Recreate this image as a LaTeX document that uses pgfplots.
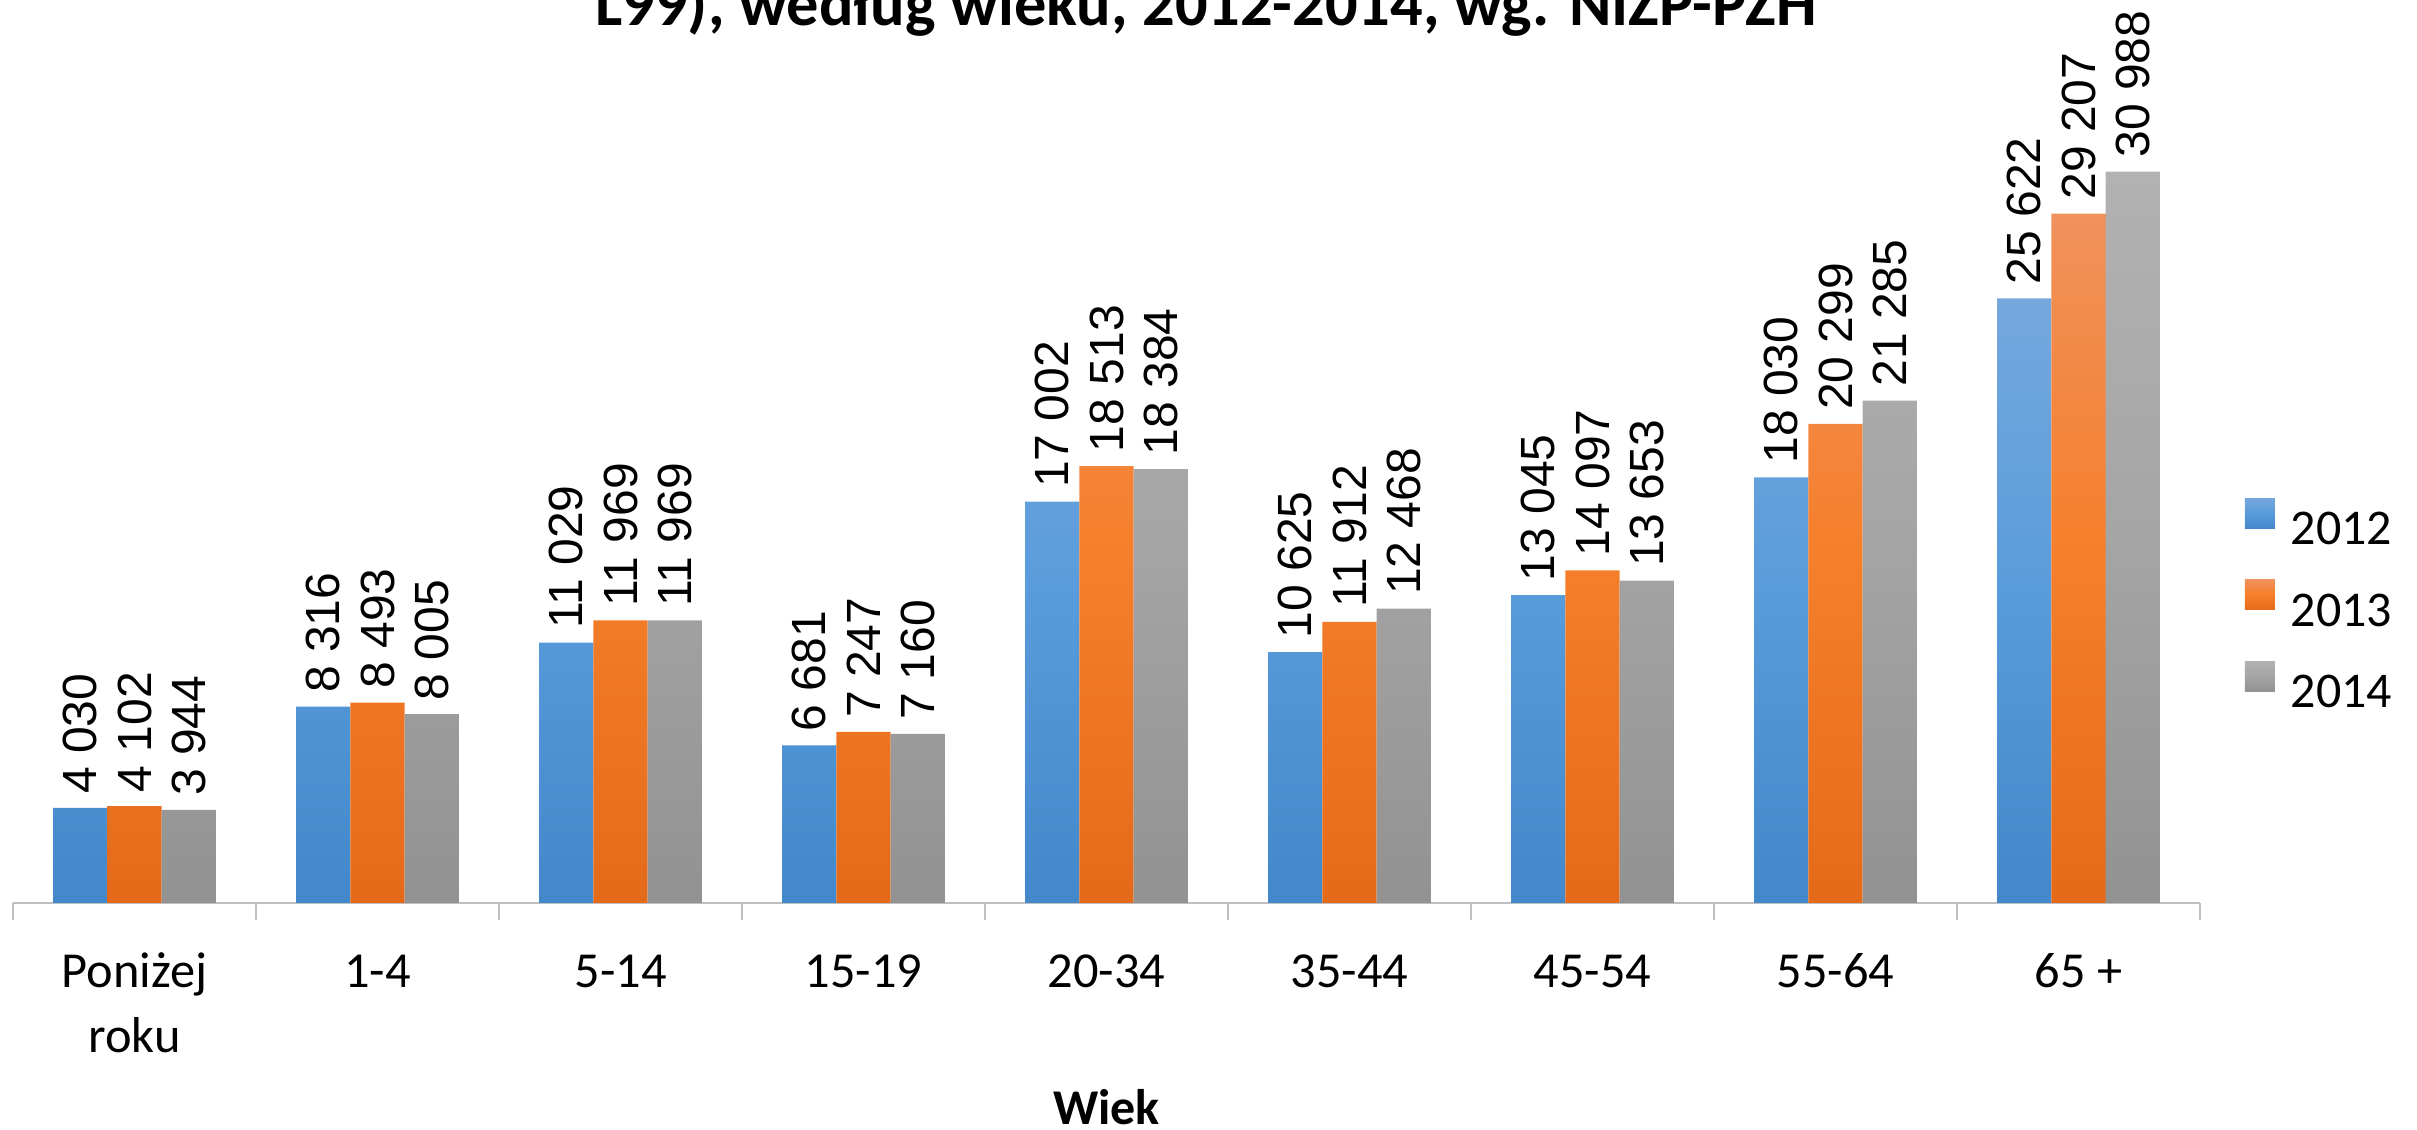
\documentclass[border=0pt]{standalone}
\usepackage{pgfplots}
\usepackage{pgfplotstable}
\pgfplotsset{compat=1.18}
\usepackage{fontspec}
\setmainfont{Carlito}
\newfontfamily\labelfont{Liberation Sans}

\definecolor{blueTop}{RGB}{117,168,221}
\definecolor{blueMid}{RGB}{88,155,219}
\definecolor{blueBot}{RGB}{66,136,202}
\definecolor{orTop}{RGB}{241,145,92}
\definecolor{orMid}{RGB}{245,127,42}
\definecolor{orBot}{RGB}{228,106,26}
\definecolor{grTop}{RGB}{178,178,178}
\definecolor{grMid}{RGB}{165,165,165}
\definecolor{grBot}{RGB}{146,146,146}
\definecolor{axisgray}{RGB}{191,191,191}

% 2012, 2013, 2014 by age group
\pgfplotstableread{
x y
0 4030
1 8316
2 11029
3 6681
4 17002
5 10625
6 13045
7 18030
8 25622
}\dataA
\pgfplotstableread{
x y
0 4102
1 8493
2 11969
3 7247
4 18513
5 11912
6 14097
7 20299
8 29207
}\dataB
\pgfplotstableread{
x y
0 3944
1 8005
2 11969
3 7160
4 18384
5 12468
6 13653
7 21285
8 30988
}\dataC

\pgfplotsset{
  sqlegend/.style={legend image code/.code={\path[##1,draw=none] (0pt,0.2pt) rectangle (7.5pt,7.7pt);}},
}

\begin{document}
\begin{tikzpicture}
\begin{axis}[
  at={(0,0)}, anchor=south west,
  scale only axis, width=546.75pt, height=225.75pt,
  xmin=-0.5, xmax=8.5, ymin=0, ymax=38260,
  axis x line*=bottom, axis y line=none,
  x axis line style={draw=axisgray, line width=0.6pt},
  xtick={0,...,8},
  xticklabels={{\begin{tabular}[t]{@{}c@{}}Poniżej\\roku\end{tabular}}, 1-4, 5-14, 15-19, 20-34, 35-44, 45-54, 55-64, 65 +},
  major tick length=0pt, tick align=outside,
  extra x ticks={-0.5,0.5,...,8.5},
  extra x tick labels={},
  extra x tick style={major tick length=4.25pt, tick style={draw=axisgray, line width=0.6pt}},
  xticklabel style={anchor=base, yshift=-21.25pt, font=\fontsize{12.6}{16.25}\selectfont},
  xlabel={Wiek},
  xlabel style={at={(axis description cs:0.5,0)}, anchor=base, yshift=-55.5pt, font=\bfseries\fontsize{12.5}{15}\selectfont},
  ybar, bar width=0.2235,
  nodes near coords={\pgfmathprintnumber[fixed, precision=0, 1000 sep={\ }, assume math mode=true]{\pgfplotspointmeta}},
  nodes near coords style={rotate=90, anchor=west, inner xsep=3.3pt, inner ysep=0pt, font=\labelfont\fontsize{12}{14}\selectfont, text=black},
  legend style={at={(1.0201,0.3321)}, anchor=west, draw=none, fill=none, inner sep=0pt,
    row sep=8.7pt, column sep=4pt, font=\fontsize{12.5}{15}\selectfont,
    nodes={inner sep=0pt, text height=7.9pt, text depth=0pt}},
  legend cell align=left,
]
\addplot[sqlegend, draw=none, top color=blueTop, bottom color=blueBot, middle color=blueMid, bar shift=-0.2235] table[x=x, y=y]{\dataA};
\addplot[sqlegend, draw=none, top color=orTop, bottom color=orBot, middle color=orMid, bar shift=0] table[x=x, y=y]{\dataB};
\addplot[sqlegend, draw=none, top color=grTop, bottom color=grBot, middle color=grMid, bar shift=0.2235] table[x=x, y=y]{\dataC};
\legend{2012, 2013, 2014}
\end{axis}
\node[anchor=base, font=\bfseries\fontsize{16.1}{19}\selectfont] at (298.25pt,219.25pt) {L99), według wieku, 2012-2014, wg. NIZP-PZH};
\pgfresetboundingbox
\useasboundingbox (-3.25pt,-56.75pt) rectangle (601pt,225.75pt);
\end{tikzpicture}
\end{document}
